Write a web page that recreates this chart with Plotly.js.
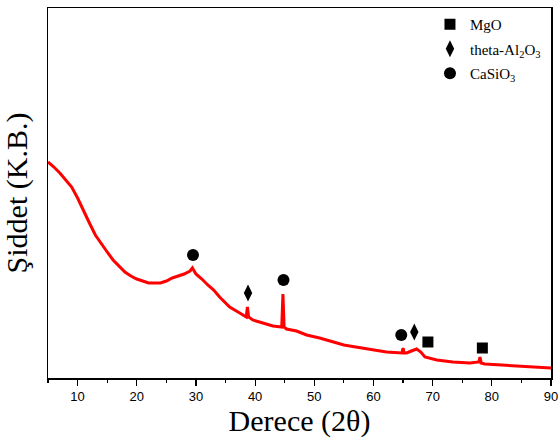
<!DOCTYPE html>
<html>
<head>
<meta charset="utf-8">
<script src="https://cdn.plot.ly/plotly-3.0.1.min.js"></script>
<style>html,body{margin:0;padding:0;background:#fff;}#chart{width:559px;height:443px;}</style>
</head>
<body>
<div id="chart"></div>
<script>
// XRD pattern (2θ in degrees, intensity in arbitrary units)
const twoTheta = [5, 6, 7, 8, 9, 10, 11, 12, 13, 14, 15, 16, 17, 18, 19, 20, 21, 22, 23, 24, 25, 26, 27, 28, 29, 29.4, 30, 31, 32, 33, 34, 35.7, 37.4, 38.5, 38.7, 38.9, 39.6, 41.3, 43, 44.5, 44.7, 44.9, 45.3, 47, 48.7, 50.9, 53.8, 55, 57, 59.4, 62.2, 64.8, 65, 65.2, 65.6, 66.4, 67.3, 68, 68.7, 70.7, 73.4, 76.3, 77.8, 78, 78.2, 78.8, 81.9, 84.7, 87.6, 90];
const intensity = [216, 211, 205, 198, 191, 180, 167, 155, 143, 134, 126, 118, 112, 106, 102, 99, 97, 95, 95, 95, 97, 100, 102, 104, 107, 110, 104, 99, 93, 88, 81, 71, 65, 61, 71, 61, 58, 55, 52, 51, 84, 51, 49, 47, 43, 40, 35, 33, 31, 29, 26, 25, 30, 25, 25, 27, 29, 26, 21, 18, 16, 15, 16, 21, 15, 14, 13, 12, 11, 10];

// Phase markers
const mgoX = [69.2, 78.4];
const mgoY = [36, 30];
const al2o3X = [38.8, 66.9];
const al2o3Y = [85, 46];
const casio3X = [29.5, 44.8, 64.7];
const casio3Y = [123, 98, 43];

const legendNames = ['MgO', 'theta-Al<sub>2</sub>O<sub>3</sub>', 'CaSiO<sub>3</sub>'];
const xTickVals = [10, 20, 30, 40, 50, 60, 70, 80, 90];

const traces = [
  {x: twoTheta, y: intensity, type: 'scatter', mode: 'lines', line: {color: '#ff0000', width: 3}, showlegend: false, hoverinfo: 'skip'},
  {x: mgoX, y: mgoY, type: 'scatter', mode: 'markers', name: legendNames[0], legendgroup: 'a', marker: {symbol: 'square', size: 11, color: '#000'}},
  {x: al2o3X, y: al2o3Y, type: 'scatter', mode: 'markers', name: legendNames[1], legendgroup: 'b', marker: {symbol: 'diamond-tall', size: 12, color: '#000'}},
  {x: casio3X, y: casio3Y, type: 'scatter', mode: 'markers', name: legendNames[2], legendgroup: 'c', marker: {symbol: 'circle', size: 12, color: '#000'}}
];

const layout = {
  width: 559, height: 443,
  margin: {l: 48, r: 8, t: 8, b: 65},
  paper_bgcolor: '#fff', plot_bgcolor: '#fff',
  showlegend: true,
  legend: {x: 0.99, y: 1.0, xanchor: 'right', yanchor: 'top', bgcolor: 'rgba(0,0,0,0)', borderwidth: 0,
           font: {family: 'Liberation Serif, serif', size: 15, color: '#000'}, tracegroupgap: 2, itemwidth: 30},
  xaxis: {
    range: [5, 90], showgrid: false, zeroline: false,
    showline: true, linecolor: '#000', linewidth: 1.5, mirror: true,
    tickmode: 'array', tickvals: xTickVals, ticks: 'outside', ticklen: 6, tickwidth: 1.2, tickcolor: '#000',
    minor: {dtick: 5, tick0: 5, ticks: 'outside', ticklen: 3, tickwidth: 1.2, tickcolor: '#000'},
    tickfont: {family: 'Liberation Sans, Arial, sans-serif', size: 13, color: '#000'},
    title: {text: 'Derece (2θ)', font: {family: 'Liberation Serif, serif', size: 30, color: '#000'}, standoff: 7}
  },
  yaxis: {
    range: [0, 370], showgrid: false, zeroline: false,
    showline: true, linecolor: '#000', linewidth: 1.5, mirror: true,
    ticks: '', showticklabels: false,
    title: {text: 'Şiddet (K.B.)', font: {family: 'Liberation Serif, serif', size: 30, color: '#000'}, standoff: 12}
  }
};

Plotly.newPlot('chart', traces, layout, {displayModeBar: false, staticPlot: true});
</script>
</body>
</html>
